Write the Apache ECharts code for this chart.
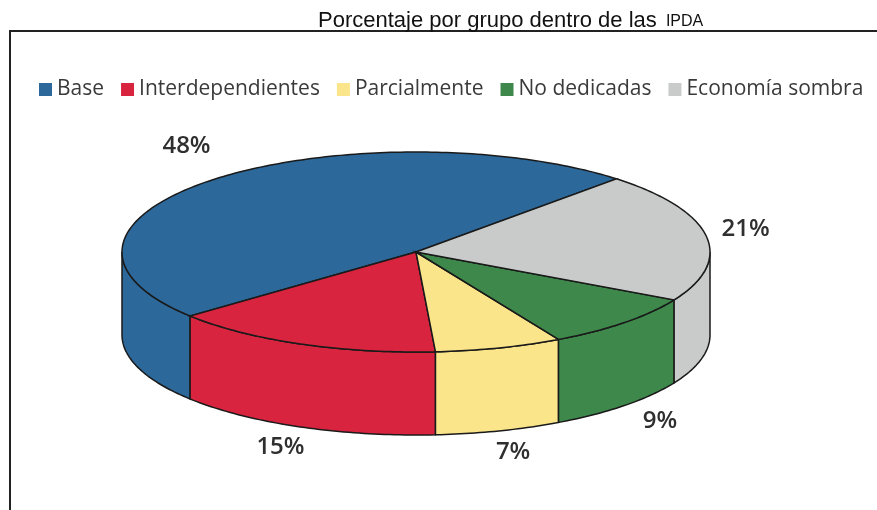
<!DOCTYPE html>
<html>
<head>
<meta charset="utf-8">
<script src="https://cdn.jsdelivr.net/npm/echarts@6/dist/echarts.min.js"></script>
<style>
  html, body { margin: 0; padding: 0; background: #fff; }
  #main { width: 877px; height: 510px; }
</style>
</head>
<body>
<div id="main"></div>
<script>
// datos del grafico
const grupos = ['Base', 'Interdependientes', 'Parcialmente', 'No dedicadas', 'Economía sombra'];
const porcentajes = [48, 15, 7, 9, 21];
const colores = ['#2c6899', '#d8243e', '#fbe58a', '#3d884a', '#c8cbca'];

const chart = echarts.init(document.getElementById('main'));

// geometria del pastel 3D (elipse + altura)
const cx = 416, cy = 252, rx = 294, ry = 100, depth = 83;
const startAngle = 47;

const total = porcentajes.reduce((a, b) => a + b, 0);
const angles = [];
let acc = startAngle;
porcentajes.forEach(function(v) {
  const span = v / total * 360;
  angles.push([acc, acc + span]);
  acc += span;
});

function pt(t, dy) {
  const r = t * Math.PI / 180;
  return [cx + rx * Math.cos(r), cy - ry * Math.sin(r) + (dy || 0)];
}

function arcPts(a, b, dy) {
  const pts = [];
  const n = Math.max(2, Math.ceil(Math.abs(b - a)));
  for (let i = 0; i <= n; i++) pts.push(pt(a + (b - a) * i / n, dy));
  return pts;
}

function renderSlice(idx) {
  return function(params, api) {
    const a = angles[idx][0], b = angles[idx][1];
    const color = colores[idx];
    const children = [];

    // lado frontal (solo la mitad de abajo es visible)
    [-360, 0, 360].forEach(function(k) {
      const lo = Math.max(a, 180 + k), hi = Math.min(b, 360 + k);
      if (hi > lo) {
        const top = arcPts(lo, hi, 0);
        const bot = arcPts(hi, lo, depth);
        children.push({
          type: 'polygon',
          shape: { points: top.concat(bot) },
          style: { fill: color, stroke: '#1a1a1a', lineWidth: 1.5 }
        });
      }
    });

    // cara superior
    children.push({
      type: 'polygon',
      shape: { points: [[cx, cy]].concat(arcPts(a, b, 0)) },
      style: { fill: color, stroke: '#1a1a1a', lineWidth: 1.5 }
    });

    // etiqueta
    const mid = (a + b) / 2 * Math.PI / 180;
    const s = Math.sin(mid);
    const lx = cx + (s >= 0 ? rx + 40 : rx + 50) * Math.cos(mid);
    const ly = s >= 0 ? cy - (ry + 45) * s : cy - (ry + 22) * s + depth;
    children.push({
      type: 'text',
      x: lx, y: ly,
      style: {
        text: porcentajes[idx] + '%',
        fontFamily: 'Open Sans',
        fontSize: 24,
        fontWeight: 600,
        fill: '#2f2f2f',
        align: 'center',
        verticalAlign: 'middle'
      }
    });

    return { type: 'group', children: children };
  };
}

const series = grupos.map(function(name, i) {
  return {
    type: 'custom',
    name: name,
    coordinateSystem: 'none',
    itemStyle: { color: colores[i] },
    data: [[porcentajes[i]]],
    renderItem: renderSlice(i),
    silent: true
  };
});

chart.setOption({
  animation: false,
  color: colores,
  title: {
    text: 'Porcentaje por grupo dentro de las {s|IPDA}',
    left: 313,
    top: 5,
    textStyle: {
      fontFamily: 'Liberation Sans',
      fontSize: 22,
      fontWeight: 'normal',
      color: '#111',
      rich: {
        s: { fontFamily: 'Liberation Sans', fontSize: 16, color: '#111', padding: [2, 0, 0, 3] }
      }
    }
  },
  legend: {
    data: grupos,
    left: 34,
    top: 74,
    icon: 'rect',
    itemWidth: 13,
    itemHeight: 13,
    itemGap: 17,
    textStyle: {
      fontFamily: 'Open Sans',
      fontSize: 21,
      color: '#3a3a3a'
    },
    selectedMode: false
  },
  graphic: [{
    type: 'polyline',
    shape: { points: [[10, 510], [10, 31], [877, 31]] },
    style: { fill: null, stroke: '#222', lineWidth: 2 }
  }],
  series: series
});
</script>
</body>
</html>
